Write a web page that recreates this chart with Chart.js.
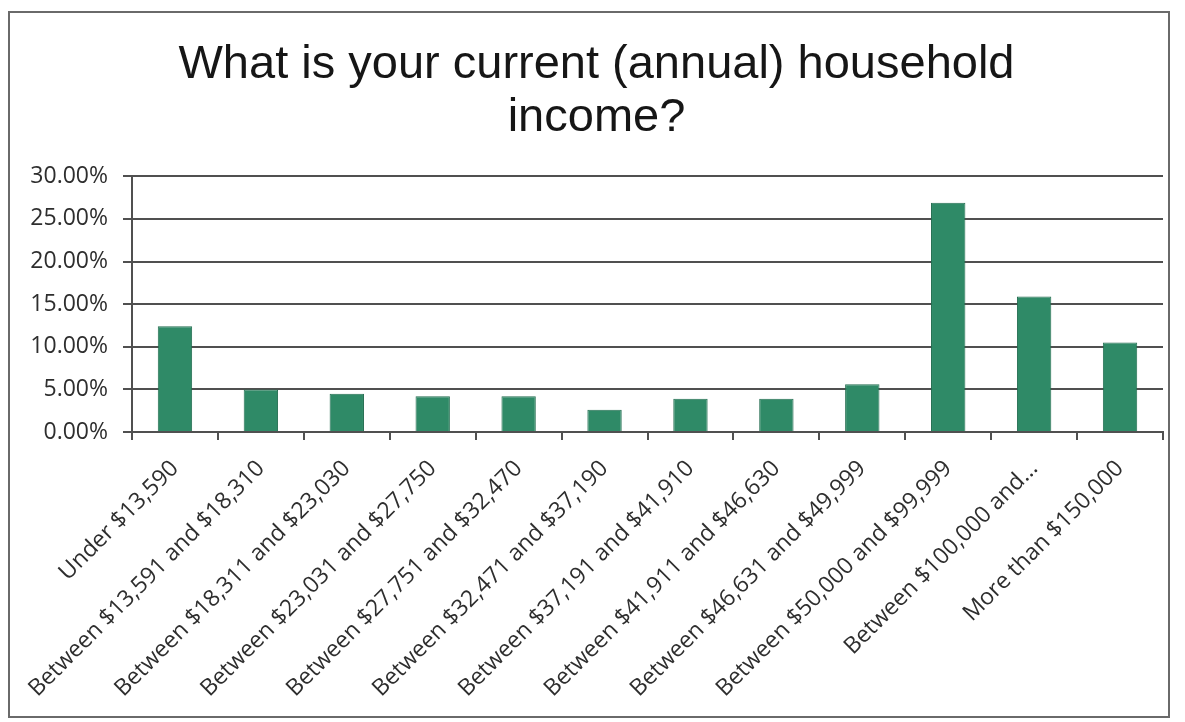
<!DOCTYPE html>
<html>
<head>
<meta charset="utf-8">
<title>Household income</title>
<script src="https://cdn.jsdelivr.net/npm/chart.js@4.4.1/dist/chart.umd.min.js"></script>
<style>
  html, body { margin: 0; padding: 0; background: #ffffff; }
  #wrap { position: relative; width: 1185px; height: 722px; overflow: hidden; }
  #frame {
    position: absolute; left: 8px; top: 11px; width: 1162px; height: 707px;
    border: 2px solid #6a6a6a; box-sizing: border-box;
  }
  #c { position: absolute; left: 0; top: 0; }
</style>
</head>
<body>
<div id="wrap">
  <div id="frame"></div>
  <canvas id="c" width="1185" height="722"></canvas>
</div>
<script>
// Income brackets (x axis)
const categories = [
  'Under $13,590',
  'Between $13,591 and $18,310',
  'Between $18,311 and $23,030',
  'Between $23,031 and $27,750',
  'Between $27,751 and $32,470',
  'Between $32,471 and $37,190',
  'Between $37,191 and $41,910',
  'Between $41,911 and $46,630',
  'Between $46,631 and $49,999',
  'Between $50,000 and $99,999',
  'Between $100,000 and...',
  'More than $150,000'
];

// Share of respondents per bracket, in percent
const shares = [12.4, 5.0, 4.5, 4.2, 4.2, 2.6, 3.9, 3.9, 5.6, 26.9, 15.9, 10.5];

// Value axis ticks, in percent
const yTicks = [0, 5, 10, 15, 20, 25, 30];

const titleLines = ['What is your current (annual) household', 'income?'];

const axisFont = { family: '"Open Sans", sans-serif', size: 23 };
const lineColor = '#505050';

new Chart(document.getElementById('c'), {
  type: 'bar',
  data: {
    labels: categories,
    datasets: [{
      data: shares,
      backgroundColor: '#2f8a67',
      borderColor: '#246e51',
      borderWidth: 1,
      barPercentage: 0.4,
      categoryPercentage: 1.0
    }]
  },
  options: {
    responsive: false,
    animation: false,
    devicePixelRatio: 1,
    layout: { padding: { left: 30, right: 22, top: 0, bottom: 0 } },
    plugins: {
      legend: { display: false },
      tooltip: { enabled: false },
      title: {
        display: true,
        text: titleLines,
        color: '#161616',
        font: { family: '"Liberation Sans", Arial, sans-serif', size: 47, weight: 'normal', lineHeight: 1.12 },
        padding: { top: 39, bottom: 32 }
      }
    },
    scales: {
      x: {
        offset: true,
        grid: {
          display: true,
          offset: true,
          drawOnChartArea: false,
          drawTicks: true,
          tickLength: 8,
          color: lineColor,
          lineWidth: 2
        },
        border: { display: true, color: lineColor, width: 2 },
        ticks: {
          autoSkip: false,
          minRotation: 45,
          maxRotation: 45,
          padding: 15,
          color: '#2e2e2e',
          font: axisFont
        },
        afterFit: (scale) => { scale.height = 290; }
      },
      y: {
        min: 0,
        max: 30,
        afterBuildTicks: (scale) => { scale.ticks = yTicks.map(v => ({ value: v })); },
        grid: {
          color: lineColor,
          lineWidth: 2,
          drawTicks: true,
          tickLength: 9
        },
        border: { display: true, color: lineColor, width: 2 },
        ticks: {
          padding: 15,
          color: '#2e2e2e',
          font: axisFont,
          callback: (v) => Number(v).toFixed(2) + '%'
        },
        afterFit: (scale) => { scale.width = 102; }
      }
    }
  }
});
</script>
</body>
</html>
